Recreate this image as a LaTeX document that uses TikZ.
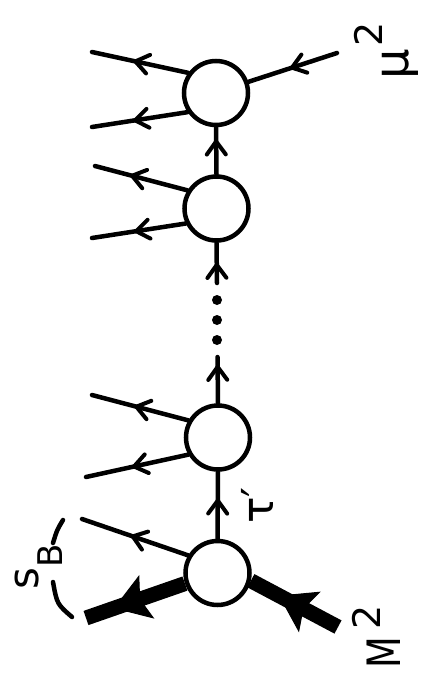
\documentclass[tikz,border=0pt]{standalone}
\usepackage{fontspec}
\setmainfont{DejaVu Sans}
\usetikzlibrary{arrows.meta,decorations.markings}
\begin{document}
\begin{tikzpicture}[x=1pt,y=-1pt,
  blob/.style={circle,draw,line width=4.5pt,minimum size=64pt,inner sep=0pt},
  dotnode/.style={circle,fill,minimum size=10pt,inner sep=0pt},
  leg/.style={line width=4.5pt,line cap=round},
  heavy/.style={line width=15pt},
  barb/.style={postaction={decorate,decoration={markings,mark=at position #1 with {\arrow{Straight Barb[length=13pt,width=19pt,line width=4pt,round]}}}}},
  bigtip/.style={postaction={decorate,decoration={markings,mark=at position #1 with {\arrow{Stealth[length=35pt,width=46pt,inset=7pt,line width=1pt]}}}}},
  lbl/.style={inner sep=0pt,rotate=90,anchor=base west}]
\useasboundingbox (0,0) rectangle (430,680);
% vertices
\node[blob] (c1) at (216,93) {};
\node[blob] (c2) at (216.5,208.5) {};
\node[blob] (c3) at (218,437.5) {};
\node[blob] (c4) at (217.5,573) {};
% dots
\node[dotnode] (p1) at (217,300) {};
\node[dotnode] (p2) at (217,320) {};
\node[dotnode] (p3) at (217,340) {};
% free ends
\coordinate (a1) at (92,52);
\coordinate (b1) at (92,127);
\coordinate (r1) at (337,53);
\coordinate (a2) at (95,166);
\coordinate (b2) at (92,238);
\coordinate (a3) at (92,395);
\coordinate (b3) at (86,477);
\coordinate (a4) at (82,519);
\coordinate (b4) at (86,618);
\coordinate (r4) at (338,627);
\coordinate (d1) at (217.5,357);
\coordinate (d2) at (217,283);
% chain
\draw[leg,barb=0.6] (c4.north) -- (c3.south);
\draw[leg,barb=0.83] (c3.north) -- (d1);
\draw[leg,barb=0.5] (d2) -- (c2.south);
\draw[leg,barb=0.74] (c2.north) -- (c1.south);
% emitted lines
\draw[leg,barb=0.57] (c1.144) -- (a1);
\draw[leg,barb=0.57] (c1.214) -- (b1);
\draw[leg,barb=0.53] (r1) -- (c1.19);
\draw[leg,barb=0.62] (c2.148) -- (a2);
\draw[leg,barb=0.55] (c2.206) -- (b2);
\draw[leg,barb=0.56] (c3.150) -- (a3);
\draw[leg,barb=0.55] (c3.210) -- (b3);
\draw[leg,barb=0.54] (c4.149) -- (a4);
% heavy lines
\draw[heavy,bigtip=0.72] (c4.198) -- (b4);
\draw[heavy,bigtip=0.68] (r4) -- (c4.347);
% s_B brackets
\draw[leg] (63,520) .. controls (57,530) .. (53,543);
\draw[leg] (53,582) .. controls (57,604) .. (72,617);
% labels
\node[lbl] (mu) at (408,80) {\fontsize{48}{48}\selectfont μ\hspace{3pt}\raisebox{26pt}{\fontsize{38}{38}\selectfont 2}};
\node[lbl] (M) at (400,669) {\fontsize{46}{46}\selectfont \scalebox{0.8}[1]{M}\hspace{8pt}\raisebox{20pt}{\fontsize{38}{38}\selectfont 2}};
\node[lbl] (sB) at (38,590) {\fontsize{42}{42}\selectfont s\raisebox{-24pt}{\fontsize{34}{34}\selectfont B}};
\node[lbl] (tau) at (273,524) {\fontsize{44}{44}\selectfont τ′};
\end{tikzpicture}
\end{document}
